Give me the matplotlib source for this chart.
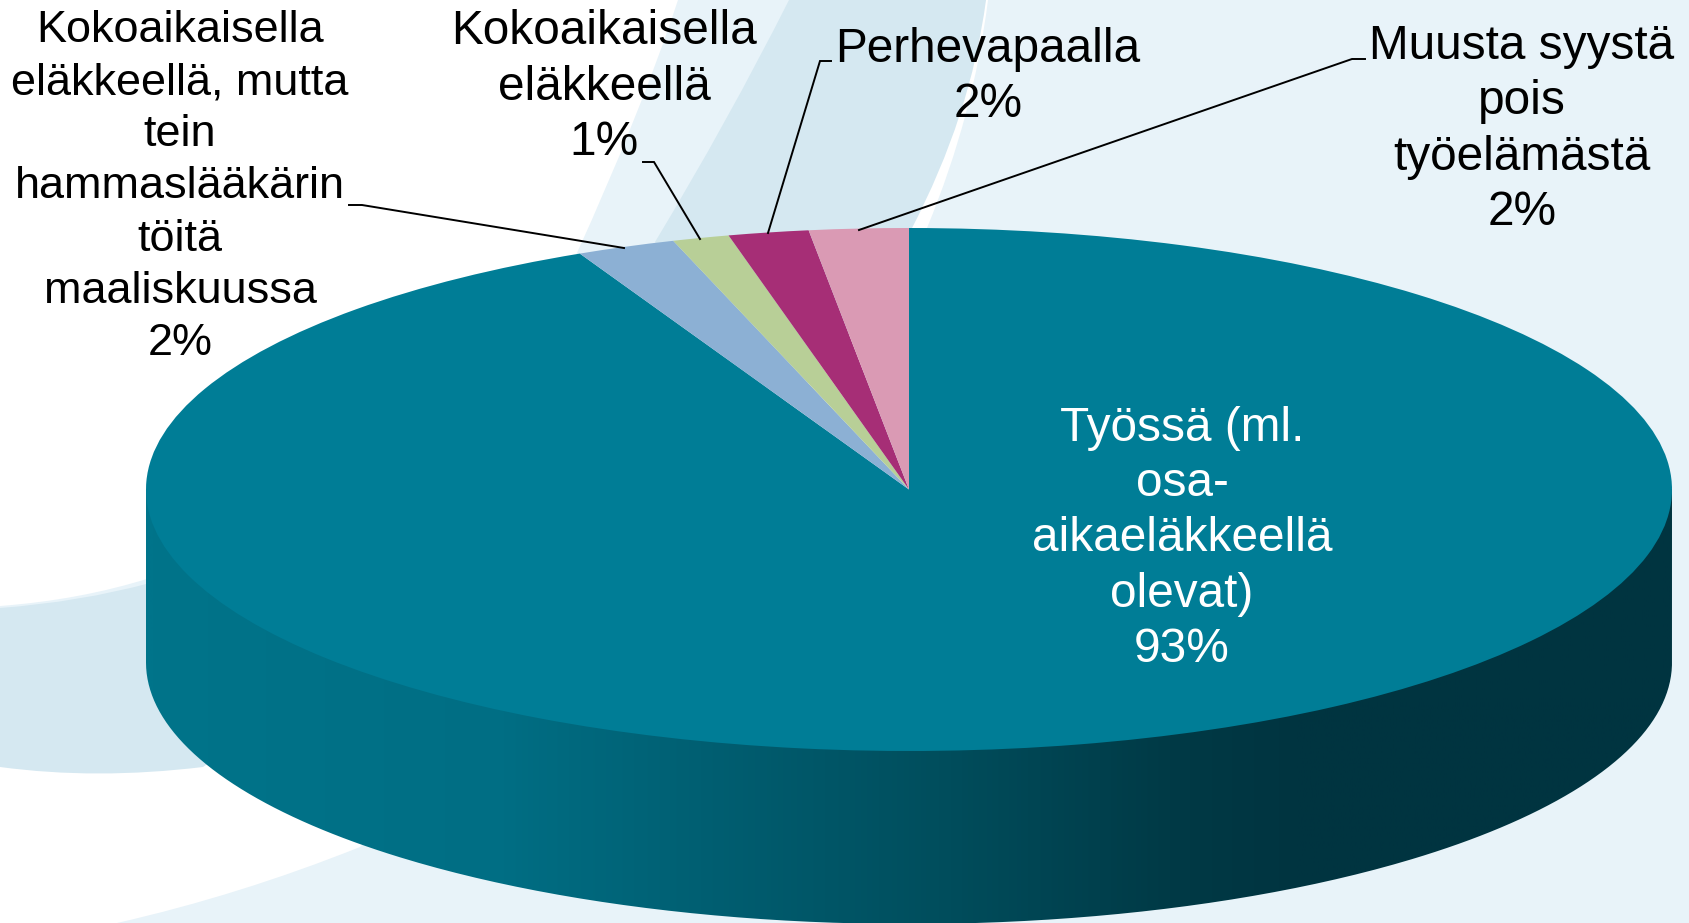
import matplotlib
import matplotlib.pyplot as plt
import numpy as np
from matplotlib.colors import LinearSegmentedColormap
from matplotlib.patches import PathPatch
from matplotlib.path import Path

matplotlib.use("Agg")

# slices clockwise from 12 o'clock
values = [92.9, 2.1, 1.2, 1.7, 2.1]
percents = [93, 2, 1, 2, 2]
names = [
    "Työssä (ml.\nosa-\naikaeläkkeellä\nolevat)",
    "Kokoaikaisella\neläkkeellä, mutta\ntein\nhammaslääkärin\ntöitä\nmaaliskuussa",
    "Kokoaikaisella\neläkkeellä",
    "Perhevapaalla",
    "Muusta syystä\npois\ntyöelämästä",
]
colors = ["#007D96", "#8CB0D4", "#B8CF97", "#A62E76", "#DA9AB4"]
text_colors = ["white", "black", "black", "black", "black"]

# label centre x, baseline of last line, font size (all in pixels of the picture)
label_x = [1182, 180, 604, 988, 1522]
label_base = [662, 355, 155, 117, 225]
label_px = [47.7, 45, 47.7, 47.7, 47.7]
label_spacing = [1.295, 1.349, 1.30, 1.30, 1.295]

# leader lines: text end, elbow, pie end
leaders = [
    [(349, 205), (362, 205), (624, 248)],
    [(643, 162), (654, 162), (700, 239)],
    [(831, 61), (820, 61), (768, 233)],
    [(1365, 59), (1352, 59), (859, 230)],
]

W, H = 1689, 923
CX, CY, RX, RY = 909, 489.5, 763, 261.5
DEPTH = 173
LIGHT = "#E8F3F9"
DARK = "#D5E8F1"

grad_x = [146, 500, 700, 950, 1170, 1300, 1672]
grad_colors = ["#00748A", "#006E84", "#005F72", "#004D5C", "#003A46", "#003440", "#003440"]

plt.rcParams["font.family"] = ["Liberation Sans", "DejaVu Sans"]

fig = plt.figure(figsize=(W / 100, H / 100), dpi=100, facecolor="white")

bg = fig.add_axes([0, 0, 1, 1], zorder=0)
bg.set_axis_off()

M, L, C3, Z = Path.MOVETO, Path.LINETO, Path.CURVE3, Path.CLOSEPOLY


def shape(ax, verts, codes, color):
    ax.add_patch(PathPatch(Path(verts, codes), facecolor=color, edgecolor="none"))


# background swooshes
shape(bg, [(988, 0), (974, 114), (927, 228), (850, 400), (360, 847), (240, 895), (117, 923),
           (W, H), (W, 0), (988, 0)],
      [M, C3, C3, L, L, C3, C3, L, L, Z], LIGHT)
shape(bg, [(678, 0), (640, 115), (576, 255), (700, 400), (800, 400), (986, 0), (678, 0)],
      [M, C3, C3, L, L, L, Z], LIGHT)
shape(bg, [(789, 0), (728, 121), (655, 242), (750, 400), (900, 300), (911, 230), (971, 115), (986, 0), (789, 0)],
      [M, C3, C3, L, L, L, C3, C3, Z], DARK)
shape(bg, [(0, 606), (80, 600), (150, 578), (300, 600), (150, 640), (0, 640), (0, 606)],
      [M, C3, C3, L, L, L, Z], LIGHT)
shape(bg, [(0, 608), (80, 602), (150, 583), (300, 700), (203, 767), (96, 780), (0, 767), (0, 608)],
      [M, C3, C3, L, L, C3, C3, Z], DARK)

# side wall of the disc, horizontal gradient clipped to its outline
t = np.linspace(np.pi, 0, 300)
ex = CX + RX * np.cos(t)
ey = CY + RY * np.sin(t)
wall = np.vstack([np.column_stack([ex, ey - 30]), np.column_stack([ex[::-1], ey[::-1] + DEPTH])])
wall_patch = PathPatch(Path(wall), transform=bg.transData, facecolor="none", edgecolor="none")
bg.add_patch(wall_patch)
stops = [(x - grad_x[0]) / (grad_x[-1] - grad_x[0]) for x in grad_x]
cmap = LinearSegmentedColormap.from_list("wall", list(zip(stops, grad_colors)))
im = bg.imshow(np.linspace(0, 1, 800).reshape(1, -1), cmap=cmap, aspect="auto",
               extent=(grad_x[0], grad_x[-1], H, CY), zorder=5)
im.set_clip_path(wall_patch)
bg.set_xlim(0, W)
bg.set_ylim(H, 0)

# top of the disc: a pie squeezed into the ellipse
pie_ax = fig.add_axes([(CX - RX) / W, 1 - (CY + RY) / H, 2 * RX / W, 2 * RY / H], zorder=1)
wedges, _ = pie_ax.pie(values, colors=colors, startangle=90, counterclock=False, radius=1,
                       wedgeprops={"linewidth": 0})
pie_ax.set_aspect("auto")
pie_ax.set_xlim(-1, 1)
pie_ax.set_ylim(-1, 1)

# labels and leader lines on top
top = fig.add_axes([0, 0, 1, 1], zorder=2)
top.set_axis_off()
top.patch.set_alpha(0)
top.set_xlim(0, W)
top.set_ylim(H, 0)

for name, pct, x, base, px, col, sp in zip(names, percents, label_x, label_base, label_px, text_colors, label_spacing):
    top.text(x, base, f"{name}\n{pct}%", ha="center", va="baseline", multialignment="center",
             fontsize=px * 0.72, color=col, linespacing=sp)

for pts in leaders:
    xs, ys = zip(*pts)
    top.plot(xs, ys, color="black", lw=1.4, solid_joinstyle="miter")

fig.savefig("out.png", dpi=100)
plt.close(fig)
